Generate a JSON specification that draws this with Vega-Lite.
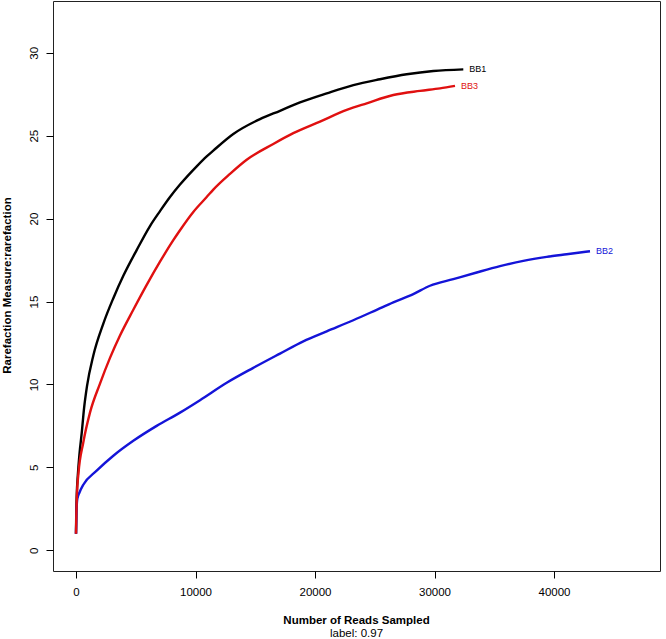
{
  "$schema": "https://vega.github.io/schema/vega-lite/v6.json",
  "width": 607,
  "height": 570,
  "autosize": "none",
  "padding": {"left": 53, "top": 1, "right": 6, "bottom": 68},
  "background": "white",
  "config": {"view": {"stroke": "#222222", "strokeWidth": 1}, "font": "Liberation Sans"},
  "title": {
    "text": "Number of Reads Sampled",
    "subtitle": "label: 0.97",
    "orient": "bottom",
    "anchor": "middle",
    "font": "Liberation Sans",
    "fontSize": 11.5,
    "fontWeight": "bold",
    "color": "black",
    "subtitleFont": "Liberation Sans",
    "subtitleFontSize": 11.5,
    "subtitleFontWeight": "normal",
    "subtitleColor": "black",
    "subtitlePadding": 2,
    "offset": 17
  },
  "data": {
    "values": [
      {"sample": "BB1", "reads": 0, "value": 1},
      {"sample": "BB1", "reads": 20, "value": 2.2},
      {"sample": "BB1", "reads": 60, "value": 3.3},
      {"sample": "BB1", "reads": 150, "value": 4.5},
      {"sample": "BB1", "reads": 290, "value": 5.8},
      {"sample": "BB1", "reads": 477, "value": 7.06},
      {"sample": "BB1", "reads": 680, "value": 8.6},
      {"sample": "BB1", "reads": 920, "value": 9.9},
      {"sample": "BB1", "reads": 1450, "value": 11.75},
      {"sample": "BB1", "reads": 2287, "value": 13.67},
      {"sample": "BB1", "reads": 3124, "value": 15.2},
      {"sample": "BB1", "reads": 3960, "value": 16.55},
      {"sample": "BB1", "reads": 5077, "value": 18.1},
      {"sample": "BB1", "reads": 6192, "value": 19.55},
      {"sample": "BB1", "reads": 7030, "value": 20.45},
      {"sample": "BB1", "reads": 7866, "value": 21.3},
      {"sample": "BB1", "reads": 8703, "value": 22.05},
      {"sample": "BB1", "reads": 10100, "value": 23.15},
      {"sample": "BB1", "reads": 10937, "value": 23.75},
      {"sample": "BB1", "reads": 11490, "value": 24.1},
      {"sample": "BB1", "reads": 13163, "value": 25.1},
      {"sample": "BB1", "reads": 15397, "value": 26.0},
      {"sample": "BB1", "reads": 17071, "value": 26.5},
      {"sample": "BB1", "reads": 18745, "value": 27.0},
      {"sample": "BB1", "reads": 20979, "value": 27.55},
      {"sample": "BB1", "reads": 23209, "value": 28.05},
      {"sample": "BB1", "reads": 25439, "value": 28.4},
      {"sample": "BB1", "reads": 27674, "value": 28.7},
      {"sample": "BB1", "reads": 29900, "value": 28.9},
      {"sample": "BB1", "reads": 32410, "value": 29.0},
      {"sample": "BB2", "reads": 0, "value": 1},
      {"sample": "BB2", "reads": 40, "value": 2.3},
      {"sample": "BB2", "reads": 110, "value": 3.1},
      {"sample": "BB2", "reads": 300, "value": 3.5},
      {"sample": "BB2", "reads": 610, "value": 3.95},
      {"sample": "BB2", "reads": 1730, "value": 4.8},
      {"sample": "BB2", "reads": 3124, "value": 5.7},
      {"sample": "BB2", "reads": 4795, "value": 6.6},
      {"sample": "BB2", "reads": 6750, "value": 7.5},
      {"sample": "BB2", "reads": 8703, "value": 8.3},
      {"sample": "BB2", "reads": 10377, "value": 9.05},
      {"sample": "BB2", "reads": 12611, "value": 10.1},
      {"sample": "BB2", "reads": 14837, "value": 11.0},
      {"sample": "BB2", "reads": 17071, "value": 11.86},
      {"sample": "BB2", "reads": 19021, "value": 12.6},
      {"sample": "BB2", "reads": 20979, "value": 13.2},
      {"sample": "BB2", "reads": 23205, "value": 13.87},
      {"sample": "BB2", "reads": 25163, "value": 14.5},
      {"sample": "BB2", "reads": 26552, "value": 14.95},
      {"sample": "BB2", "reads": 28226, "value": 15.45},
      {"sample": "BB2", "reads": 29623, "value": 15.95},
      {"sample": "BB2", "reads": 31573, "value": 16.35},
      {"sample": "BB2", "reads": 33531, "value": 16.75},
      {"sample": "BB2", "reads": 35481, "value": 17.13},
      {"sample": "BB2", "reads": 37431, "value": 17.45},
      {"sample": "BB2", "reads": 39389, "value": 17.69},
      {"sample": "BB2", "reads": 41063, "value": 17.85},
      {"sample": "BB2", "reads": 43013, "value": 18.03},
      {"sample": "BB3", "reads": 0, "value": 1},
      {"sample": "BB3", "reads": 30, "value": 2.2},
      {"sample": "BB3", "reads": 80, "value": 3.4},
      {"sample": "BB3", "reads": 200, "value": 4.6},
      {"sample": "BB3", "reads": 610, "value": 6.5},
      {"sample": "BB3", "reads": 1170, "value": 8.3},
      {"sample": "BB3", "reads": 2008, "value": 10.05},
      {"sample": "BB3", "reads": 2845, "value": 11.6},
      {"sample": "BB3", "reads": 3682, "value": 12.95},
      {"sample": "BB3", "reads": 4795, "value": 14.5},
      {"sample": "BB3", "reads": 5916, "value": 16.0},
      {"sample": "BB3", "reads": 7029, "value": 17.4},
      {"sample": "BB3", "reads": 8142, "value": 18.7},
      {"sample": "BB3", "reads": 8703, "value": 19.3},
      {"sample": "BB3", "reads": 9816, "value": 20.4},
      {"sample": "BB3", "reads": 10937, "value": 21.3},
      {"sample": "BB3", "reads": 11490, "value": 21.75},
      {"sample": "BB3", "reads": 12887, "value": 22.7},
      {"sample": "BB3", "reads": 14284, "value": 23.55},
      {"sample": "BB3", "reads": 16510, "value": 24.5},
      {"sample": "BB3", "reads": 18184, "value": 25.15},
      {"sample": "BB3", "reads": 20418, "value": 25.85},
      {"sample": "BB3", "reads": 22652, "value": 26.55},
      {"sample": "BB3", "reads": 24326, "value": 26.95},
      {"sample": "BB3", "reads": 26552, "value": 27.45},
      {"sample": "BB3", "reads": 28787, "value": 27.7},
      {"sample": "BB3", "reads": 30460, "value": 27.85},
      {"sample": "BB3", "reads": 31715, "value": 28.0}
    ]
  },
  "encoding": {
    "x": {
      "field": "reads",
      "type": "quantitative",
      "scale": {"domain": [-1925, 48870], "nice": false, "zero": false},
      "axis": {
        "values": [0, 10000, 20000, 30000, 40000],
        "format": "d",
        "title": null,
        "tickSize": 7,
        "tickColor": "black",
        "labelPadding": 8,
        "labelFontSize": 11.5,
        "labelFont": "Liberation Sans",
        "labelColor": "black",
        "domain": false,
        "grid": false
      }
    },
    "y": {
      "field": "value",
      "type": "quantitative",
      "scale": {"domain": [-1.25, 33.12], "nice": false, "zero": false},
      "axis": {
        "values": [0, 5, 10, 15, 20, 25, 30],
        "title": "Rarefaction Measure:rarefaction",
        "titleFont": "Liberation Sans",
        "titleFontWeight": "bold",
        "titleFontSize": 11.5,
        "titleColor": "black",
        "titleX": -46,
        "titleY": 284,
        "titleAngle": -90,
        "titleAlign": "center",
        "titleBaseline": "middle",
        "labelAngle": -90,
        "labelAlign": "center",
        "labelBaseline": "bottom",
        "labelPadding": 7,
        "labelFontSize": 11.5,
        "labelFont": "Liberation Sans",
        "labelColor": "black",
        "tickSize": 7,
        "tickColor": "black",
        "domain": false,
        "grid": false
      }
    },
    "color": {
      "field": "sample",
      "type": "nominal",
      "scale": {"domain": ["BB1", "BB2", "BB3"], "range": ["#000000", "#1414d8", "#e01010"]},
      "legend": null
    }
  },
  "layer": [
    {"mark": {"type": "line", "strokeWidth": 2.4, "interpolate": "monotone", "clip": true}},
    {
      "transform": [
        {"joinaggregate": [{"op": "max", "field": "reads", "as": "maxr"}], "groupby": ["sample"]},
        {"filter": "datum.reads == datum.maxr"}
      ],
      "mark": {"type": "text", "align": "left", "baseline": "middle", "dx": 6, "fontSize": 9, "font": "Liberation Sans"},
      "encoding": {"text": {"field": "sample"}}
    }
  ]
}
